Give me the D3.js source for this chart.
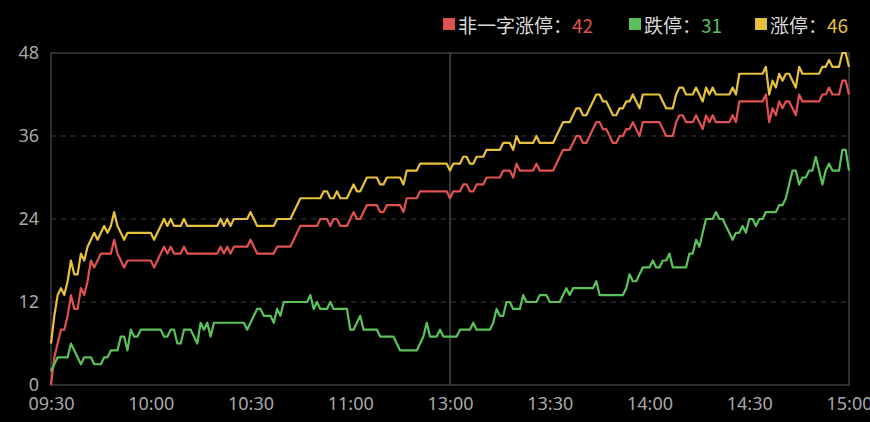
<!DOCTYPE html>
<html><head><meta charset="utf-8">
<script src="https://cdn.jsdelivr.net/npm/d3@7/dist/d3.min.js"></script>
<style>
html,body{margin:0;padding:0;background:#000;}
svg{display:block;}
text{font-family:"Noto Sans CJK SC","Noto Sans",sans-serif;}
</style></head>
<body>
<svg id="chart" width="870" height="422"></svg>
<script>
// time labels for the x-axis (one tick every 30 points)
const tickLabels = ["09:30","10:00","10:30","11:00","13:00","13:30","14:00","14:30","15:00"];
const tickIndex = [0,30,60,90,120,150,180,210,240];
const yTicks = [0,12,24,36,48];

// 非一字涨停 (per minute, 241 points)
const redValues = [
0,4,6,8,8,10,13,11,11,14,13,15,18,17,18,19,19,19,19,21,19,18,17,18,18,18,18,18,18,18,
18,17,18,19,20,19,20,19,19,19,20,19,19,19,19,19,19,19,19,19,19,20,19,20,19,20,20,20,20,20,
21,20,19,19,19,19,19,19,20,20,20,20,20,21,22,23,23,23,23,23,23,24,24,24,23,24,24,23,23,23,
24,25,24,24,25,26,26,26,26,25,25,26,26,26,26,26,25,27,27,27,27,28,28,28,28,28,28,28,28,28,
27,28,28,28,29,29,28,28,29,29,29,30,30,30,30,30,31,31,31,30,32,31,31,31,31,31,32,31,31,31,
31,31,32,33,34,34,34,35,36,36,35,35,36,37,38,38,37,37,36,35,35,36,36,37,37,38,37,36,38,38,
38,38,38,38,37,36,36,36,38,39,39,38,38,38,39,38,37,39,38,39,38,38,38,38,38,39,38,41,41,41,
41,41,41,41,41,42,38,40,39,41,40,41,41,40,39,42,41,41,41,41,41,41,42,42,43,42,42,42,44,44,
42];
// 跌停
const greenValues = [
2,3,4,4,4,4,6,5,4,3,4,4,4,3,3,3,4,4,5,5,5,7,7,5,8,7,7,8,8,8,
8,8,8,8,7,7,8,8,6,6,8,8,8,7,6,9,8,9,7,9,9,9,9,9,9,9,9,9,9,8,
9,10,11,11,10,10,10,9,11,10,12,12,12,12,12,12,12,12,13,11,12,11,11,11,12,11,11,11,11,11,
8,8,9,10,8,8,8,8,8,7,7,7,7,7,6,5,5,5,5,5,5,6,7,9,7,7,7,8,7,7,
7,7,7,8,8,8,8,9,8,8,8,8,8,9,11,10,10,12,12,11,11,11,13,12,12,12,12,13,13,13,
12,12,12,12,13,14,13,14,14,14,14,14,14,14,15,13,13,13,13,13,13,13,13,14,16,15,15,16,17,17,
17,18,17,17,18,18,19,17,17,17,17,17,19,19,21,20,22,24,24,24,25,24,24,23,22,21,22,22,23,22,
24,24,23,24,24,25,25,25,25,26,26,27,29,31,31,29,30,30,31,31,33,31,29,31,32,31,31,31,34,34,
31];
// 涨停
const yellowValues = [
6,10,13,14,13,15,18,16,16,19,18,20,21,22,21,22,23,22,23,25,23,22,21,22,22,22,22,22,22,22,
22,21,22,23,24,23,24,23,23,23,24,23,23,23,23,23,23,23,23,23,23,24,23,24,23,24,24,24,24,24,
25,24,23,23,23,23,23,23,24,24,24,24,24,25,26,27,27,27,27,27,27,27,28,28,27,27,28,27,27,27,
28,29,28,28,29,30,30,30,30,29,29,30,30,30,30,30,29,31,31,31,31,32,32,32,32,32,32,32,32,32,
31,32,32,32,33,33,32,32,33,33,33,34,34,34,34,34,35,35,35,34,36,35,35,35,35,35,36,35,35,35,
35,35,36,37,38,38,38,39,40,40,39,39,40,41,42,42,41,41,40,39,39,40,40,41,41,42,41,40,42,42,
42,42,42,42,41,40,40,40,42,43,43,42,42,42,43,42,41,43,42,43,42,42,42,42,42,43,42,45,45,45,
45,45,45,45,45,46,42,44,43,45,44,45,45,44,43,46,45,45,45,45,45,45,46,46,47,46,46,46,48,48,
46];

const seriesNames = ["非一字涨停","跌停","涨停"];
const seriesColors = ["#e05252","#5bc25b","#e6c13d"];
const seriesData = [redValues, greenValues, yellowValues];

const svg = d3.select("#chart");
const L = 51, R = 849, T = 53, B = 385;
const x = d3.scaleLinear().domain([0,240]).range([L,R]);
const y = d3.scaleLinear().domain([0,48]).range([B,T]);

// dashed grid lines
svg.append("g").selectAll("line").data(yTicks.filter(v=>v>0 && v<48)).join("line")
  .attr("x1",L).attr("x2",R).attr("y1",d=>y(d)).attr("y2",d=>y(d))
  .attr("stroke","#3c3c3c").attr("stroke-width",1).attr("stroke-dasharray","5,5");

// frame
svg.append("rect").attr("x",L).attr("y",T).attr("width",R-L).attr("height",B-T)
  .attr("fill","none").attr("stroke","#3e3e3e").attr("stroke-width",1.5);

// vertical marker at 13:00
svg.append("line").attr("x1",x(120)).attr("x2",x(120)).attr("y1",T).attr("y2",B)
  .attr("stroke","#4a4a4a").attr("stroke-width",1.5);

// y axis labels
const yAxis = d3.axisLeft(y).tickValues(yTicks).tickSize(0).tickPadding(12);
const gy = svg.append("g").attr("transform",`translate(${L},0)`).call(yAxis);
gy.select(".domain").remove();
gy.selectAll("text").attr("fill","#a8a8a8").style("font-size","18px")
  .style("font-family","'Noto Sans','Noto Sans CJK SC',sans-serif");

// x axis labels
const xAxis = d3.axisBottom(x).tickValues(tickIndex).tickFormat((d,i)=>tickLabels[i]).tickSize(0).tickPadding(12);
const gx = svg.append("g").attr("transform",`translate(0,${B})`).call(xAxis);
gx.select(".domain").remove();
gx.selectAll("text").attr("fill","#a8a8a8").style("font-size","18px")
  .style("font-family","'Noto Sans','Noto Sans CJK SC',sans-serif");

// lines
const line = d3.line().x((d,i)=>x(i)).y(d=>y(d));
seriesData.forEach((vals,k)=>{
  svg.append("path").datum(vals).attr("d",line)
    .attr("fill","none").attr("stroke",seriesColors[k]).attr("stroke-width",2.2)
    .attr("stroke-linejoin","round");
});

// legend
const legendX = [443, 629, 755];
seriesNames.forEach((name,k)=>{
  const g = svg.append("g").attr("transform",`translate(${legendX[k]},24)`);
  g.append("rect").attr("x",0).attr("y",-6).attr("width",12).attr("height",12).attr("fill",seriesColors[k]);
  const t = g.append("text").attr("x",15).attr("y",0).attr("dominant-baseline","central")
    .style("font-size","19px");
  t.append("tspan").attr("fill","#d8d8d8").text(name+"：");
  const vals = seriesData[k];
  t.append("tspan").attr("fill",seriesColors[k]).text(vals[vals.length-1]);
});
</script>
</body></html>
